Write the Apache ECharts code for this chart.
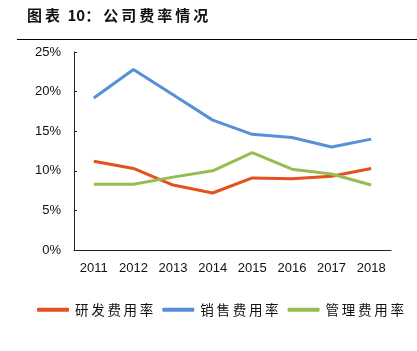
<!DOCTYPE html>
<html>
<head>
<meta charset="utf-8">
<script src="https://cdn.jsdelivr.net/npm/echarts@6/dist/echarts.min.js"></script>
<style>
  html, body { margin: 0; padding: 0; background: #fff; }
  #chart { width: 417px; height: 351px; }
</style>
</head>
<body>
<div id="chart"></div>
<script>
// 年份
const years = ['2011', '2012', '2013', '2014', '2015', '2016', '2017', '2018']
// 各项费率（%）
const rdRate = [11.2, 10.3, 8.2, 7.2, 9.1, 9.0, 9.3, 10.3]
const salesRate = [19.2, 22.8, 19.6, 16.4, 14.6, 14.2, 13.0, 14.0]
const adminRate = [8.3, 8.3, 9.2, 10.0, 12.3, 10.2, 9.6, 8.2]
const seriesNames = ['研发费用率', '销售费用率', '管理费用率']
const colors = ['#E5501E', '#5590D9', '#97BD50']

const myChart = echarts.init(document.getElementById('chart'))
const cjk = '"Noto Sans CJK SC", sans-serif'
// 字间距：用细空格拉开
const spaced = s => s.split('').join('\u2009')

const option = {
  animation: false,
  color: colors,
  graphic: [
    {
      type: 'text',
      left: 27,
      top: 8,
      style: {
        text: spaced('图表') + '\u200210：\u2009' + spaced('公司费率情况'),
        font: 'bold 15px ' + cjk,
        fill: '#111'
      }
    },
    {
      type: 'line',
      shape: { x1: 17, y1: 39.5, x2: 417, y2: 39.5 },
      style: { stroke: '#000', lineWidth: 1 }
    }
  ],
  grid: {
    left: 74,
    right: 26,
    top: 52,
    bottom: 101
  },
  legend: {
    top: 303,
    left: 37,
    width: 380,
    padding: 0,
    itemWidth: 32,
    itemHeight: 4,
    itemGap: 9,
    icon: 'roundRect',
    formatter: name => spaced(name),
    textStyle: {
      fontFamily: cjk,
      fontSize: 13.5,
      color: '#111',
      padding: [0, 0, 0, 1]
    },
    data: seriesNames
  },
  xAxis: {
    type: 'category',
    data: years,
    boundaryGap: true,
    axisLine: { lineStyle: { color: '#222', width: 1 } },
    axisTick: { inside: true, length: 4, lineStyle: { color: '#222' } },
    axisLabel: {
      color: '#111',
      fontSize: 13,
      fontFamily: 'Liberation Sans, Arial',
      margin: 12
    }
  },
  yAxis: {
    type: 'value',
    min: 0,
    max: 25,
    interval: 5,
    axisLine: { show: true, lineStyle: { color: '#222', width: 1 } },
    axisTick: { show: true, inside: true, length: 3, lineStyle: { color: '#222' } },
    splitLine: { show: false },
    axisLabel: {
      formatter: '{value}%',
      color: '#111',
      fontSize: 13,
      fontFamily: 'Liberation Sans, Arial',
      margin: 13
    }
  },
  series: [
    {
      name: seriesNames[0],
      type: 'line',
      data: rdRate,
      symbol: 'none',
      lineStyle: { width: 3 }
    },
    {
      name: seriesNames[1],
      type: 'line',
      data: salesRate,
      symbol: 'none',
      lineStyle: { width: 3 }
    },
    {
      name: seriesNames[2],
      type: 'line',
      data: adminRate,
      symbol: 'none',
      lineStyle: { width: 3 }
    }
  ]
}
myChart.setOption(option)
</script>
</body>
</html>
